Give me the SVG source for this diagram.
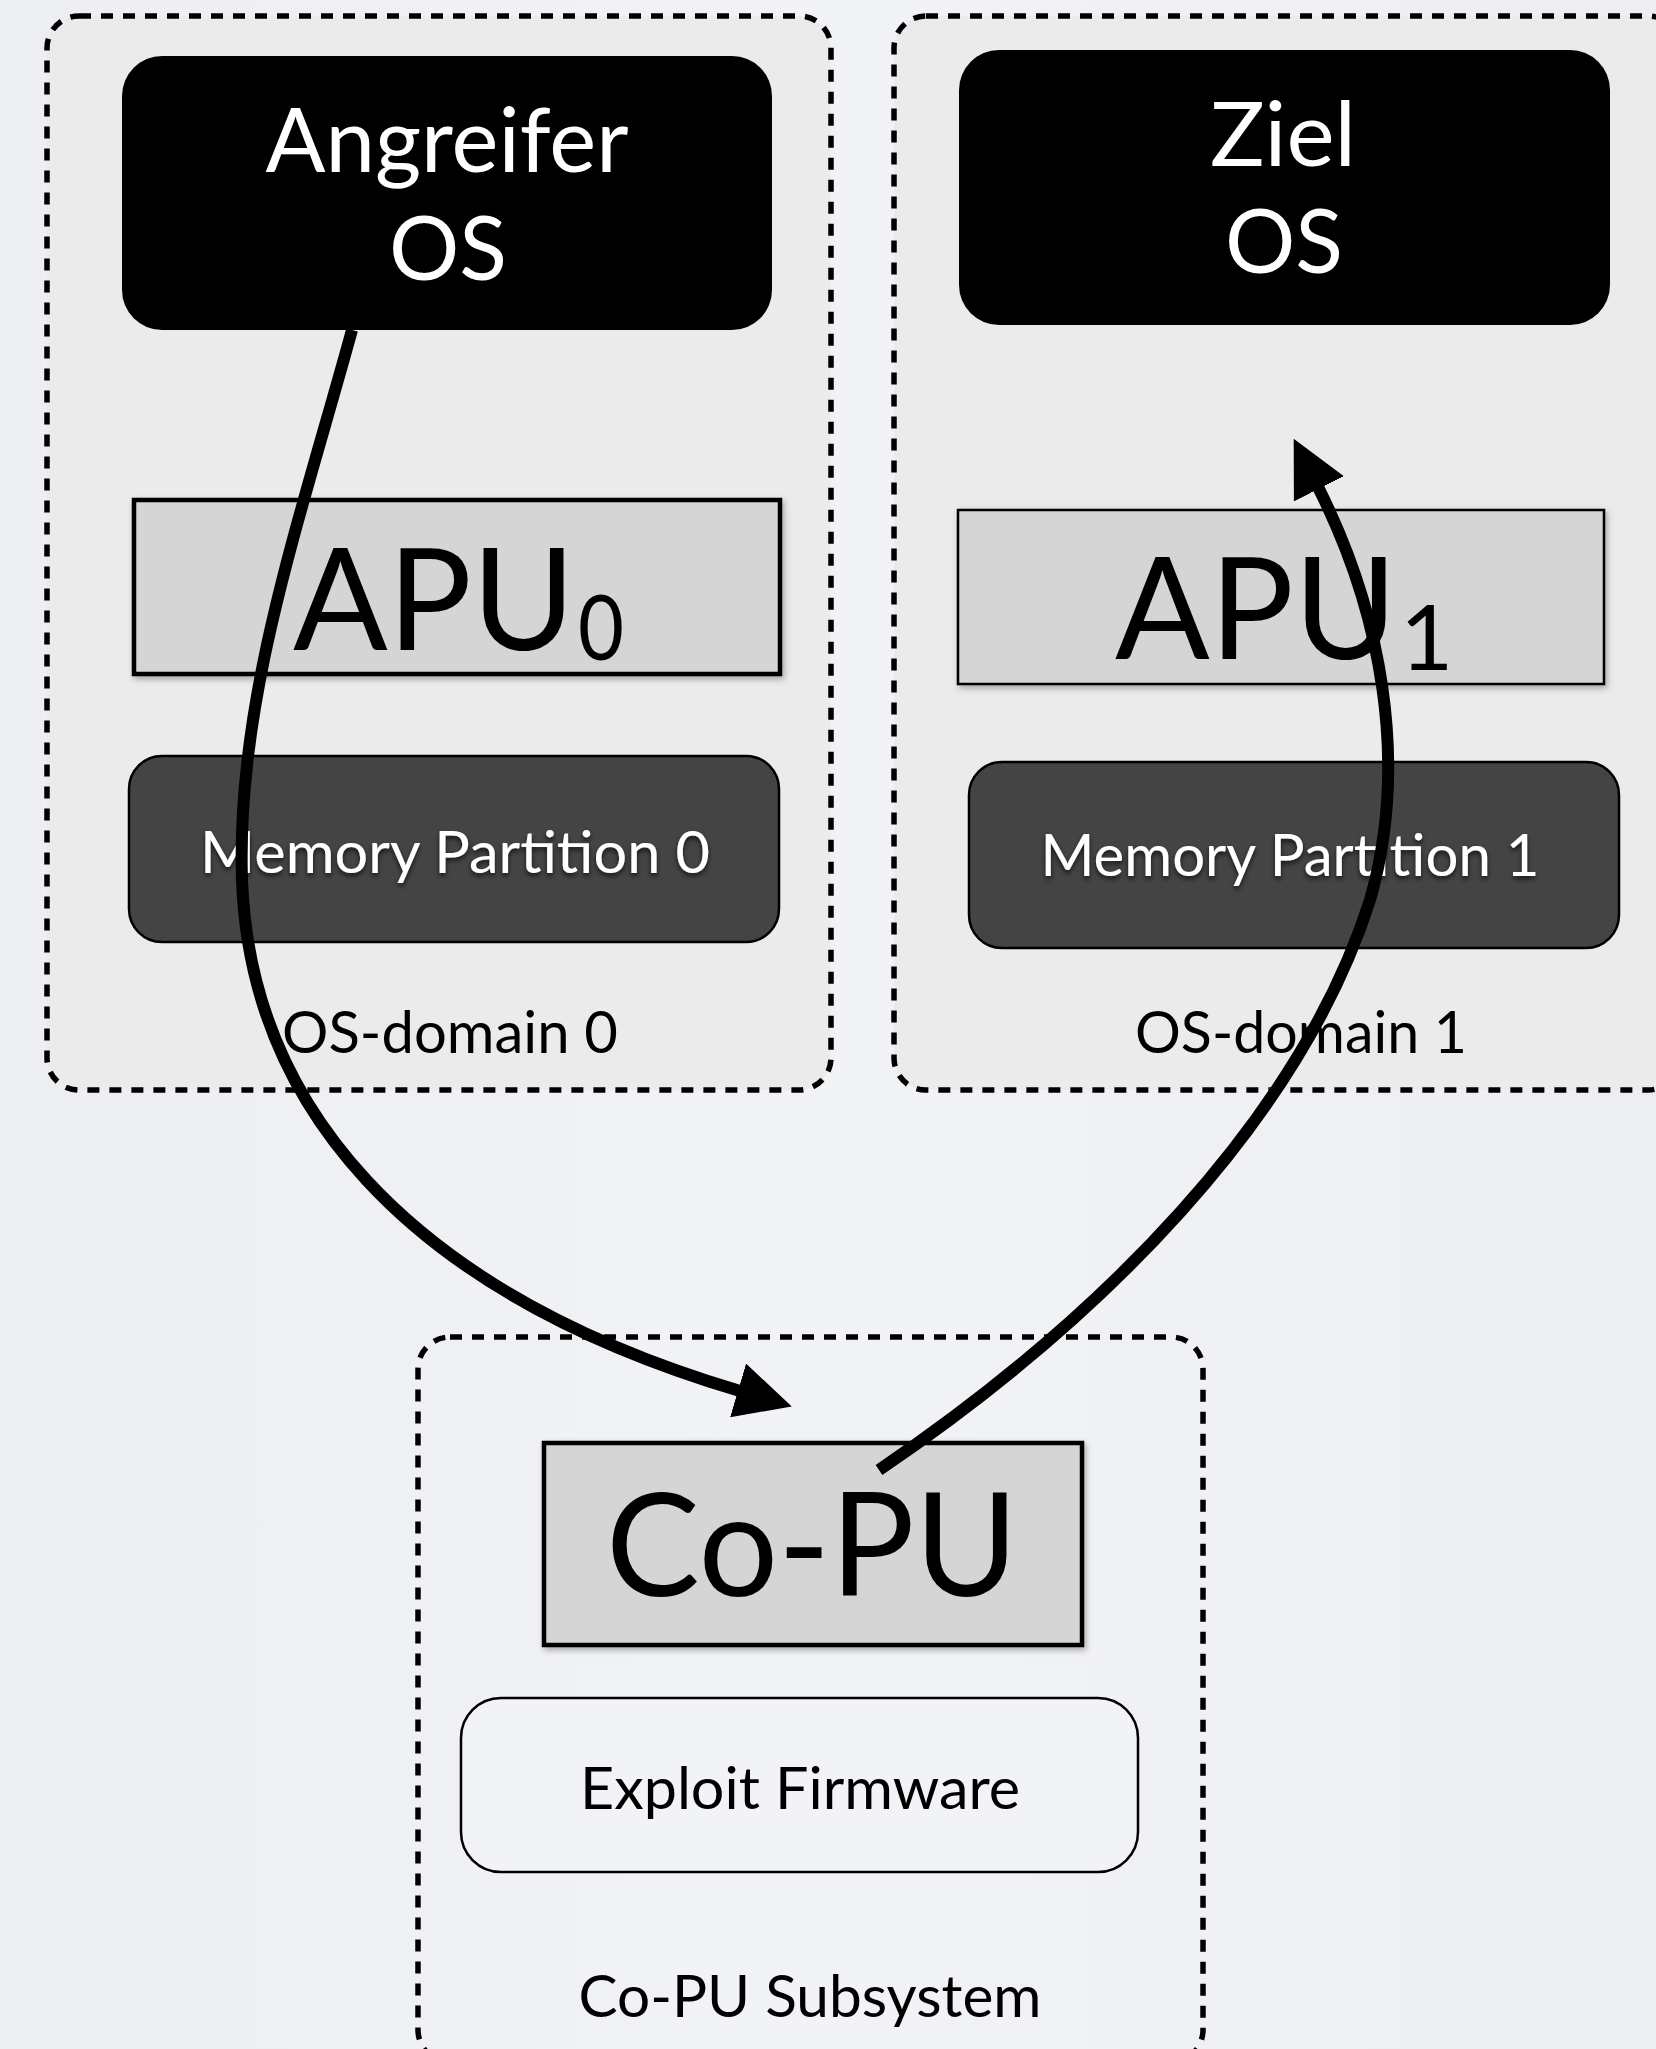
<svg xmlns="http://www.w3.org/2000/svg" width="1656" height="2049" viewBox="0 0 1656 2049">
<defs>
<style>
.t{font-family:Lato,"Open Sans","DejaVu Sans",sans-serif;}
.domain{fill:#ebebeb;stroke:#000;stroke-width:5.5;stroke-dasharray:12 10;}
.sub{fill:none;stroke:#000;stroke-width:5.5;stroke-dasharray:12 10;}
.os{fill:#000;}
.apu{fill:#d5d5d5;stroke:#000;}
.mem{fill:#444;stroke:#000;stroke-width:2.5;}
.fw{fill:#f2f3f6;stroke:#000;stroke-width:2.5;}
.wt{fill:#fff;}
.bt{fill:#000;}
.conn{fill:none;stroke:#000;stroke-width:12;}
</style>
<linearGradient id="bg" x1="0" y1="0" x2="1" y2="0">
<stop offset="0" stop-color="#eceef2"/>
<stop offset="0.5" stop-color="#f2f3f6"/>
<stop offset="1" stop-color="#eceef2"/>
</linearGradient>
<filter id="sh" x="-10%" y="-10%" width="120%" height="130%">
<feDropShadow dx="2" dy="3" stdDeviation="3" flood-color="#000" flood-opacity="0.3"/>
</filter>
<filter id="tsh" x="-5%" y="-20%" width="110%" height="150%">
<feDropShadow dx="0" dy="3" stdDeviation="2.5" flood-color="#000" flood-opacity="0.7"/>
</filter>
<marker id="ah" markerUnits="userSpaceOnUse" viewBox="0 0 56 56" markerWidth="56" markerHeight="56" refX="2" refY="28" orient="auto">
<path d="M0,0 L56,28 L0,56 Z" fill="#000"/>
</marker>
</defs>
<rect x="0" y="0" width="1656" height="2049" fill="url(#bg)"/>

<g id="os-domain-0">
<rect class="domain" x="47" y="16" width="784" height="1074" rx="32"/>
<text class="t bt" x="450" y="1053" font-size="59" text-anchor="middle" textLength="336" lengthAdjust="spacingAndGlyphs">OS-domain 0</text>
</g>
<g id="os-domain-1">
<rect class="domain" x="894" y="16" width="786" height="1074" rx="32"/>
<text class="t bt" x="1301" y="1053" font-size="59" text-anchor="middle" textLength="332" lengthAdjust="spacingAndGlyphs">OS-domain 1</text>
</g>
<g id="copu-subsystem">
<rect class="sub" x="418" y="1337" width="785" height="725" rx="32"/>
<text class="t bt" x="810" y="2017" font-size="59" text-anchor="middle" textLength="463" lengthAdjust="spacingAndGlyphs">Co-PU Subsystem</text>
</g>

<g id="angreifer-os">
<rect class="os" x="122" y="56" width="650" height="274" rx="40"/>
<text class="t wt" x="447" y="172" font-size="90" text-anchor="middle" textLength="363" lengthAdjust="spacingAndGlyphs">Angreifer</text>
<text class="t wt" x="448" y="280" font-size="90" text-anchor="middle" textLength="118" lengthAdjust="spacingAndGlyphs">OS</text>
</g>
<g id="ziel-os">
<rect class="os" x="959" y="50" width="651" height="275" rx="40"/>
<text class="t wt" x="1283" y="166" font-size="90" text-anchor="middle" textLength="146" lengthAdjust="spacingAndGlyphs">Ziel</text>
<text class="t wt" x="1284" y="273" font-size="90" text-anchor="middle" textLength="118" lengthAdjust="spacingAndGlyphs">OS</text>
</g>

<g id="apu0">
<rect class="apu" x="134" y="500" width="646" height="174" stroke-width="4.5" filter="url(#sh)"/>
<text class="t bt" x="293" y="650" font-size="142" textLength="282" lengthAdjust="spacingAndGlyphs">APU</text>
<text class="t bt" x="578" y="660" font-size="92" textLength="46" lengthAdjust="spacingAndGlyphs">0</text>
</g>
<g id="apu1">
<rect class="apu" x="958" y="510" width="646" height="174" stroke-width="2.5" filter="url(#sh)"/>
<text class="t bt" x="1115" y="659" font-size="142" textLength="282" lengthAdjust="spacingAndGlyphs">APU</text>
<text class="t bt" x="1400" y="670" font-size="92">1</text>
</g>

<g id="memory-partition-0">
<rect class="mem" x="129" y="756" width="650" height="186" rx="33"/>
<text class="t wt" x="455" y="873" font-size="59" text-anchor="middle" textLength="510" lengthAdjust="spacingAndGlyphs" filter="url(#tsh)">Memory Partition 0</text>
</g>
<g id="memory-partition-1">
<rect class="mem" x="969" y="762" width="650" height="186" rx="33"/>
<text class="t wt" x="1290" y="876" font-size="59" text-anchor="middle" textLength="499" lengthAdjust="spacingAndGlyphs" filter="url(#tsh)">Memory Partition 1</text>
</g>

<g id="copu">
<rect class="apu" x="544" y="1443" width="538" height="202" stroke-width="4.5" filter="url(#sh)"/>
<text class="t bt" x="812" y="1596" font-size="143" text-anchor="middle" textLength="412" lengthAdjust="spacingAndGlyphs">Co-PU</text>
</g>
<g id="exploit-firmware">
<rect class="fw" x="461" y="1698" width="677" height="174" rx="40"/>
<text class="t bt" x="800" y="1809" font-size="59" text-anchor="middle" textLength="440" lengthAdjust="spacingAndGlyphs">Exploit Firmware</text>
</g>

<g id="connectors">
<path class="conn" d="M352,330 C300,520 236,700 242,880 C250,1100 400,1290 740,1391" marker-end="url(#ah)"/>
<path class="conn" d="M879,1470 C1100,1320 1300,1120 1370,900 C1410,760 1380,610 1318,487" marker-end="url(#ah)"/>
</g>
</svg>
